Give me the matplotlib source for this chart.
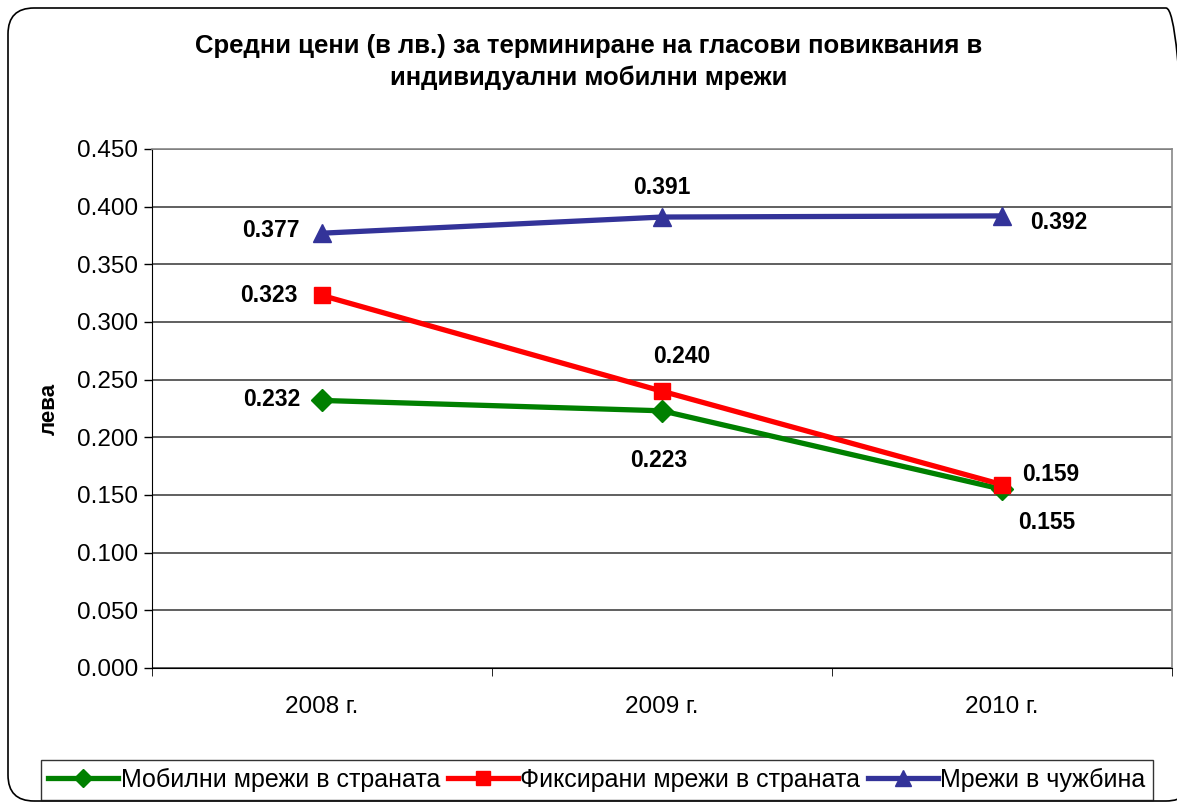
import matplotlib
matplotlib.use("Agg")
import matplotlib.pyplot as plt
from matplotlib.patches import FancyBboxPatch
from matplotlib.transforms import IdentityTransform

plt.rcParams['font.family'] = ['Liberation Sans', 'DejaVu Sans']

categories = ["2008 г.", "2009 г.", "2010 г."]
mobile = [0.232, 0.223, 0.155]
fixed = [0.323, 0.240, 0.159]
abroad = [0.377, 0.391, 0.392]
series_names = ["Мобилни мрежи в страната", "Фиксирани мрежи в страната", "Мрежи в чужбина"]
title = "Средни цени (в лв.) за терминиране на гласови повиквания в\nиндивидуални мобилни мрежи"
yticks = [0.0, 0.05, 0.10, 0.15, 0.20, 0.25, 0.30, 0.35, 0.40, 0.45]

W, H = 1177, 802
fig = plt.figure(figsize=(W / 100, H / 100), dpi=100)

# rounded outer frame in pixel coordinates (origin bottom-left)
top_px, bot_px, left_px, right_px = 8, 801, 8, 1192
frame = FancyBboxPatch((left_px, H - bot_px), right_px - left_px, bot_px - top_px,
                       boxstyle="round,pad=0,rounding_size=26",
                       transform=IdentityTransform(), fill=False, edgecolor='black',
                       linewidth=1.2, clip_on=False)
fig.patches.append(frame)

ax = fig.add_axes([152 / W, 1 - 668 / H, (1172 - 152) / W, (668 - 149) / H])
x = list(range(len(categories)))

l1, = ax.plot(x, mobile, color='#008000', lw=3.8, marker='D', markersize=11, zorder=3)
l2, = ax.plot(x, fixed, color='#FF0000', lw=3.8, marker='s', markersize=12, zorder=3)
l3, = ax.plot(x, abroad, color='#333399', lw=3.8, marker='^', markersize=13, zorder=3)

ax.set_xlim(-0.5, 2.5)
ax.set_ylim(0, 0.45)
ax.set_yticks(yticks)
ax.set_yticklabels([f"{v:.3f}" for v in yticks], fontsize=17.5)
ax.yaxis.grid(True, color='#444444', lw=1.2)
ax.set_axisbelow(True)
ax.set_xticks(x)
ax.set_xticklabels(categories, fontsize=17.5)
ax.set_xticks([-0.5, 0.5, 1.5, 2.5], minor=True)
ax.tick_params(axis='x', which='major', length=0, pad=20)
ax.tick_params(axis='x', which='minor', length=6, direction='out', color='black')
ax.tick_params(axis='y', length=6, direction='out', width=1, pad=4)
for s in ['top', 'right']:
    ax.spines[s].set_color('#888888')
    ax.spines[s].set_linewidth(1.2)
ax.spines['left'].set_color('black')
ax.spines['bottom'].set_color('black')
ax.set_ylabel("лева", fontsize=16, fontweight='bold', labelpad=12)

def lab(xi, v, dx, dy):
    ax.annotate(f"{v:.3f}", (xi, v), xytext=(dx, dy), textcoords='offset points',
                ha='center', va='center', fontsize=16.5, fontweight='bold')

# blue
lab(0, abroad[0], -37, 2)
lab(1, abroad[1], 0, 21)
lab(2, abroad[2], 41, -5)
# red
lab(0, fixed[0], -38, 0)
lab(1, fixed[1], 14, 25)
lab(2, fixed[2], 35, 7)
# green
lab(0, mobile[0], -36, 1)
lab(1, mobile[1], -2, -36)
lab(2, mobile[2], 32, -24)

fig.text(0.5, 1 - 62 / H, title, ha='center', va='center', fontsize=18.5,
         fontweight='bold', linespacing=1.4)

leg = fig.legend([l1, l2, l3], series_names, loc='center', bbox_to_anchor=(597 / W, 1 - 780 / H),
                 ncol=3, fontsize=18, frameon=True, fancybox=False, edgecolor='black',
                 handlelength=2.8, columnspacing=0.3, handletextpad=0.1, borderpad=0.3,
                 markerscale=0.85)
leg.get_frame().set_linewidth(1.0)

fig.savefig("out.png", dpi=100)
